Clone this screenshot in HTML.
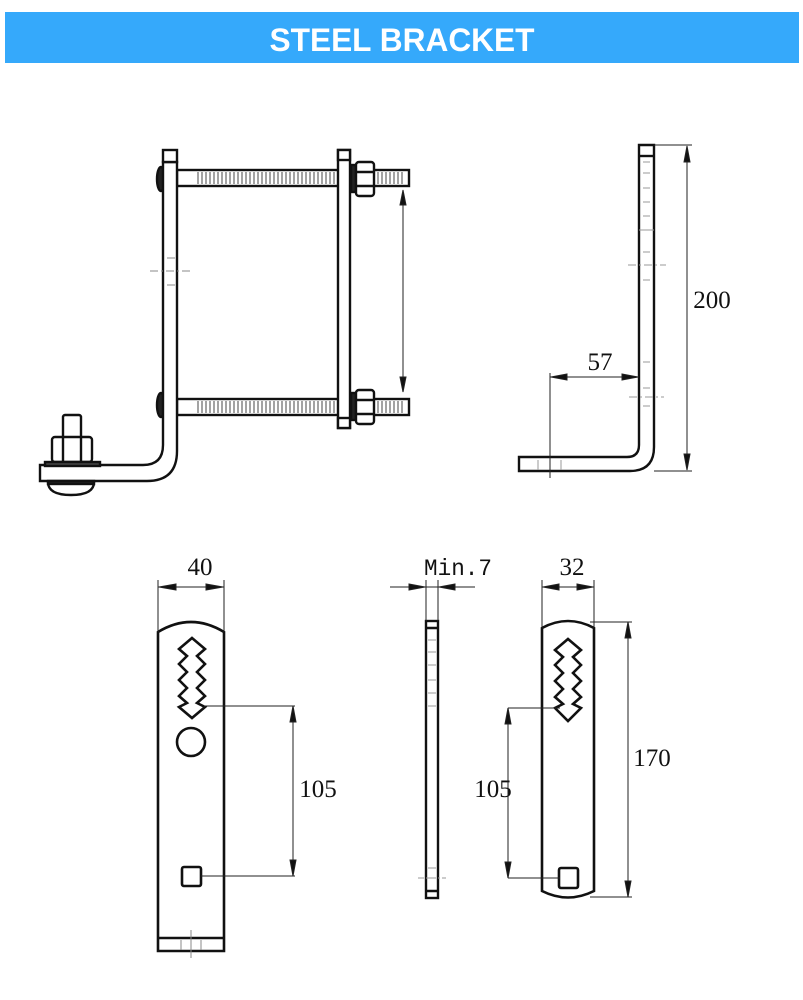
<!DOCTYPE html>
<html><head><meta charset="utf-8"><style>
html,body{margin:0;padding:0;background:#fff;width:803px;height:1000px;overflow:hidden}
svg{display:block}
</style></head><body>
<svg width="803" height="1000" viewBox="0 0 803 1000" xmlns="http://www.w3.org/2000/svg">
<rect x="0" y="0" width="803" height="1000" fill="#fff"/>
<rect x="5" y="12" width="794" height="51" fill="#35a9fb"/>
<text x="402" y="51" text-anchor="middle" font-family="Liberation Sans, sans-serif" font-weight="bold" font-size="32" fill="#fff" textLength="265" lengthAdjust="spacingAndGlyphs">STEEL BRACKET</text>

<g fill="none" stroke="#111" stroke-width="2.4">
<rect x="177" y="170" width="232" height="16" fill="#fff"/>
<rect x="177" y="399" width="232" height="16" fill="#fff"/>
</g>
<g stroke="#666" stroke-width="1.2">
<path d="M198 172V184M202 172V184M206 172V184M210 172V184M214 172V184M218 172V184M222 172V184M226 172V184M230 172V184M234 172V184M238 172V184M242 172V184M246 172V184M250 172V184M254 172V184M258 172V184M262 172V184M266 172V184M270 172V184M274 172V184M278 172V184M282 172V184M286 172V184M290 172V184M294 172V184M298 172V184M302 172V184M306 172V184M310 172V184M314 172V184M318 172V184M322 172V184M326 172V184M330 172V184M334 172V184"/>
<path d="M198 401V413M202 401V413M206 401V413M210 401V413M214 401V413M218 401V413M222 401V413M226 401V413M230 401V413M234 401V413M238 401V413M242 401V413M246 401V413M250 401V413M254 401V413M258 401V413M262 401V413M266 401V413M270 401V413M274 401V413M278 401V413M282 401V413M286 401V413M290 401V413M294 401V413M298 401V413M302 401V413M306 401V413M310 401V413M314 401V413M318 401V413M322 401V413M326 401V413M330 401V413M334 401V413"/>
<path d="M378 172V184M382 172V184M386 172V184M390 172V184M394 172V184M398 172V184M402 172V184M378 401V413M382 401V413M386 401V413M390 401V413M394 401V413M398 401V413M402 401V413"/>
<path d="M66 423H79M66 428H79M66 433H79"/>
</g>
<g fill="#fff" stroke="#111" stroke-width="2.4">
<ellipse cx="161" cy="179" rx="4" ry="12" fill="#222"/>
<ellipse cx="161" cy="405" rx="4" ry="12" fill="#222"/>
<path d="M163 162V445Q163 465 143 465H40V481H147Q177 481 177 451V162Z"/>
<rect x="163" y="150" width="14" height="12"/>
<rect x="338" y="150" width="12" height="278"/>
<rect x="338" y="150" width="12" height="10"/>
<rect x="338" y="418" width="12" height="10"/>
<rect x="351" y="165" width="5" height="27" fill="#222"/>
<rect x="356" y="162" width="18" height="34" rx="3"/>
<path d="M356 172H374M356 186H374" />
<rect x="351" y="393" width="5" height="27" fill="#222"/>
<rect x="356" y="390" width="18" height="34" rx="3"/>
<path d="M356 400H374M356 414H374"/>
<rect x="63" y="415" width="18" height="23" rx="2"/>
<rect x="52" y="437" width="40" height="25" rx="3"/>
<path d="M63 437V462M81 437V462"/>
<rect x="45" y="462" width="55" height="4" fill="#444"/>
<path d="M48 482Q48 495 71 495Q94 495 94 482" />
<rect x="48" y="481" width="46" height="3" fill="#222"/>
</g>
<g stroke="#888" stroke-width="1" fill="none">
<path d="M150 271H190" stroke-dasharray="8 3 2 3"/>
<path d="M167 258H175M167 285H175"/>
</g>
<g stroke="#222" stroke-width="1" fill="#111">
<path d="M403 196V386" fill="none"/>
<path d="M403 190L400 205H406Z"/><path d="M403 392L400 377H406Z"/>
</g>

<g fill="#fff" stroke="#111" stroke-width="2.4">
<path d="M639 145V445Q639 457 627 457H519V471H630Q654 471 654 447V145Z"/>
<path d="M639 156H654"/>
</g>
<g stroke="#999" stroke-width="1" fill="none">
<path d="M643 162H650M643 173H650M643 188H650M643 202H650M643 216H650M643 252H650M643 280H650M643 362H650M643 388H650M643 406H650" />
<path d="M639 230H654"/>
<path d="M628 265H666M629 397H664" stroke-dasharray="8 3 2 3"/>
<path d="M538 460V470M561 460V470"/>
</g>
<g stroke="#222" stroke-width="1" fill="#111">
<path d="M654 145H692M654 471H692M687 150V466M550 373V478M550 377H639" fill="none"/>
<path d="M687 146L684 162H690Z"/><path d="M687 470L684 454H690Z"/>
<path d="M551 377L567 374V380Z"/><path d="M638 377L622 374V380Z"/>
</g>
<g font-family="Liberation Serif, serif" font-size="25" fill="#111">
<text x="712" y="308" text-anchor="middle">200</text>
<text x="600" y="370" text-anchor="middle">57</text>
<text x="200" y="575" text-anchor="middle">40</text>
<text x="458" y="575" text-anchor="middle" font-family="Liberation Mono, monospace" font-size="23" textLength="68" lengthAdjust="spacingAndGlyphs">Min.7</text>
<text x="572" y="575" text-anchor="middle">32</text>
<text x="318" y="797" text-anchor="middle">105</text>
<text x="493" y="797" text-anchor="middle">105</text>
<text x="652" y="766" text-anchor="middle">170</text>
</g>

<g fill="#fff" stroke="#111" stroke-width="2.6">
<path d="M158 632Q191 612 224 632V951H158Z"/>
<path d="M158 938H224"/>
<polygon points="192,638 205,649 197,656 205,664 197,672 205,680 197,688 205,696 197,703 205,707 192,718 179,707 187,703 179,696 187,688 179,680 187,672 179,664 187,656 179,649"/>
<circle cx="191" cy="742" r="14"/>
<rect x="182" y="867" width="19" height="19" rx="2"/>
</g>
<g stroke="#888" stroke-width="1" fill="none">
<path d="M191 930V958M181 940V950M201 940V950"/>
</g>
<g fill="#fff" stroke="#111" stroke-width="2.4">
<rect x="426" y="621" width="12" height="277"/>
<path d="M426 628H438M426 891H438"/>
</g>
<g stroke="#999" stroke-width="1" fill="none">
<path d="M428 640H436M428 652H436M428 665H436M428 680H436M428 693H436M428 706H436M428 868H436M428 878H436"/>
<path d="M418 878H446" stroke-dasharray="6 2 2 2"/>
</g>
<g fill="#fff" stroke="#111" stroke-width="2.6">
<path d="M542 628Q568 614 594 628V891Q568 904 542 891Z"/>
<polygon points="568,639 581,650 573,657 581,665 573,673 581,681 573,689 581,697 573,704 581,708 568,721 555,708 563,704 555,697 563,689 555,681 563,673 555,665 563,657 555,650"/>
<rect x="559" y="868" width="19" height="20" rx="2"/>
</g>
<g stroke="#222" stroke-width="1" fill="#111">
<path d="M158 580V632M224 580V632M158 587H224" fill="none"/>
<path d="M159 587L176 584V590Z"/><path d="M223 587L206 584V590Z"/>
<path d="M204 706H295M201 876H295M293 710V872" fill="none"/>
<path d="M293 706L290 722H296Z"/><path d="M293 876L290 860H296Z"/>
<path d="M426 580V621M438 580V621M390 587H475" fill="none"/>
<path d="M425 587L409 584V590Z"/><path d="M439 587L455 584V590Z"/>
<path d="M542 580V628M594 580V628M542 587H594" fill="none"/>
<path d="M543 587L559 584V590Z"/><path d="M593 587L577 584V590Z"/>
<path d="M508 708H560M508 878H560M508 712V874" fill="none"/>
<path d="M508 708L505 724H511Z"/><path d="M508 878L505 862H511Z"/>
<path d="M590 622H632M590 897H632M628 626V893" fill="none"/>
<path d="M628 622L625 638H631Z"/><path d="M628 897L625 881H631Z"/>
</g>
</svg>
</body></html>
